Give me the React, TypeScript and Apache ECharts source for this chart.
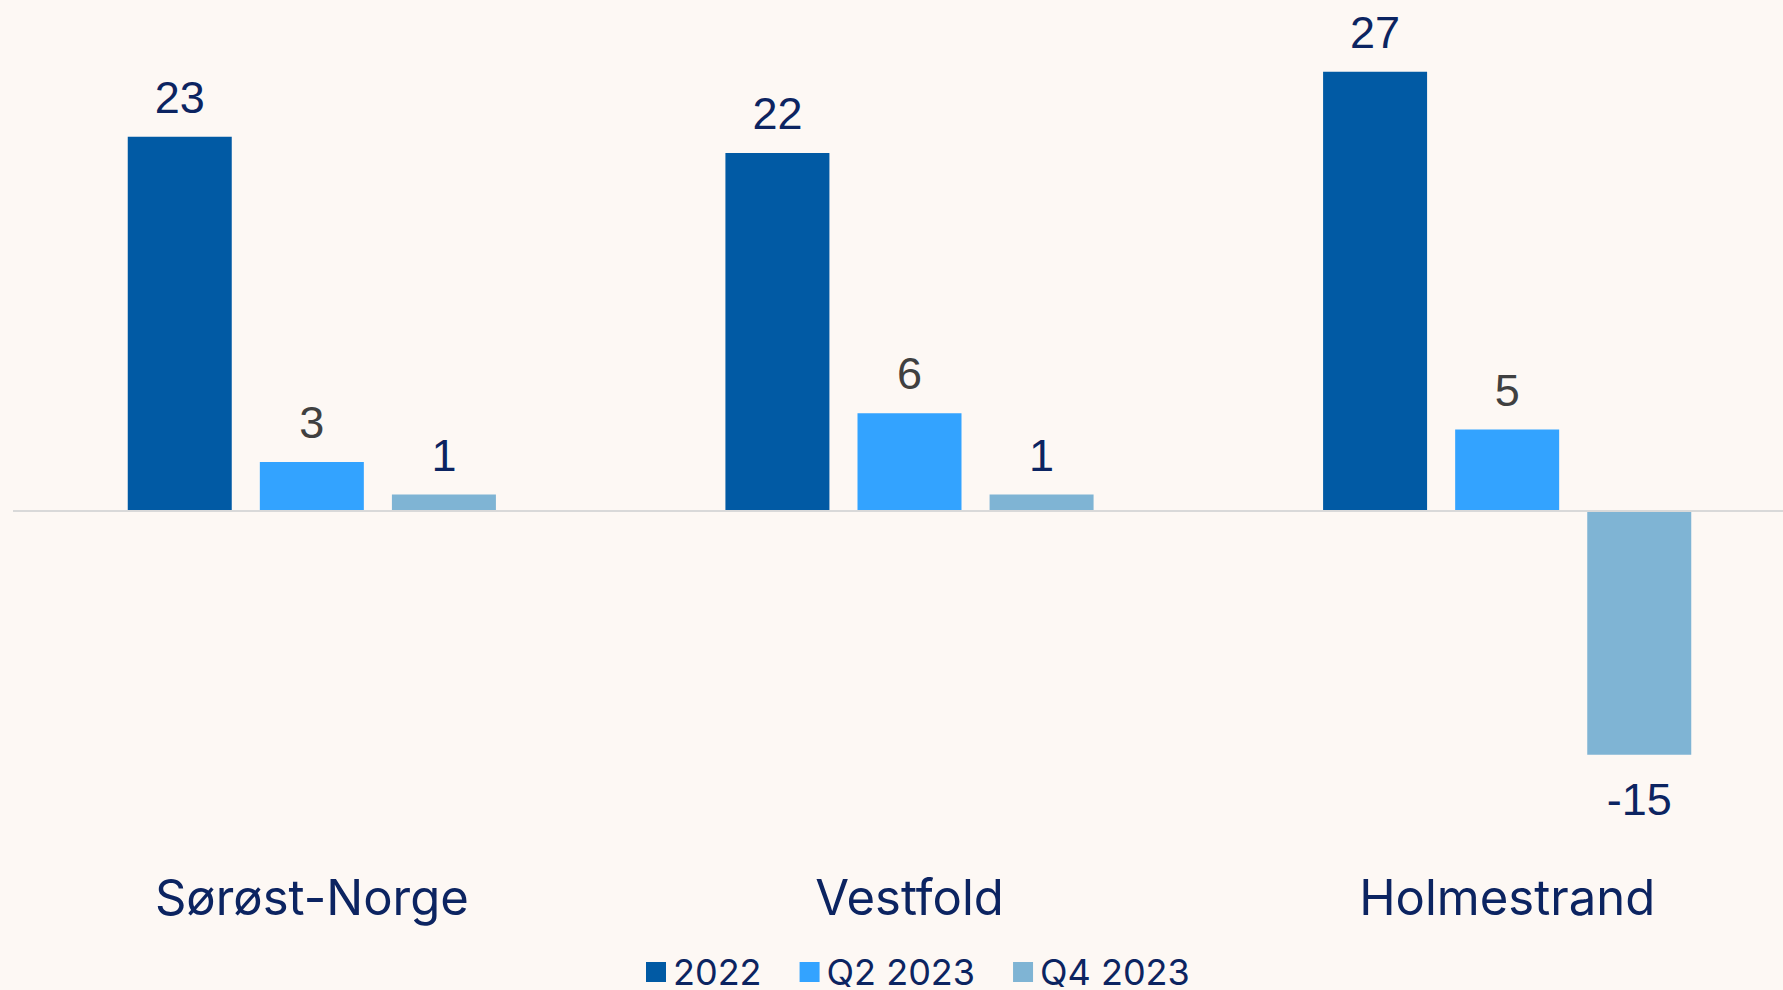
import React, { useEffect, useRef } from "react";
import * as echarts from "echarts";

const categories = ["Sørøst-Norge", "Vestfold", "Holmestrand"];
const seriesNames = ["2022", "Q2 2023", "Q4 2023"];
const values2022 = [23, 22, 27];
const valuesQ2 = [3, 6, 5];
const valuesQ4 = [1, 1, -15];

const colors = ["#015aa4", "#33a3ff", "#7fb4d4"];
const labelColors = ["#0c2461", "#404040", "#0c2461"];
const navy = "#0c2461";

export default function App() {
  const ref = useRef<HTMLDivElement>(null);
  useEffect(() => {
    document.body.style.margin = "0";
    if (!ref.current) return;
    const chart = echarts.init(ref.current, undefined, { renderer: "svg" });
    const data = [values2022, valuesQ2, valuesQ4];
    const series = data.map((vals, i) => ({
      name: seriesNames[i],
      type: "bar",
      barWidth: 104,
      barGap: "27%",
      itemStyle: { color: colors[i] },
      label: {
        show: true,
        fontFamily: "Liberation Sans, Arial, sans-serif",
        fontSize: 45,
        color: labelColors[i],
      },
      data: vals.map((v) => ({
        value: v,
        label: { position: v < 0 ? "bottom" : "top", distance: v < 0 ? 22 : 17 },
      })),
      ...(i === 0
        ? {
            markLine: {
              silent: true,
              symbol: "none",
              label: { show: false },
              lineStyle: { color: "#d9d9d9", width: 2, type: "solid" },
              data: [{ yAxis: 0 }],
            },
          }
        : {}),
    }));
    chart.setOption({
      animation: false,
      backgroundColor: "#fdf8f4",
      grid: {
        left: 13,
        top: 23,
        width: 1793,
        height: 813,
        containLabel: false,
        outerBoundsMode: "none",
      },
      legend: {
        left: 646,
        top: 954,
        padding: 0,
        itemWidth: 20,
        itemHeight: 20,
        itemGap: 38,
        icon: "rect",
        textStyle: {
          fontFamily: "Inter",
          fontSize: 36,
          lineHeight: 36,
          color: navy,
          padding: [0, 0, 0, 2],
        },
        data: seriesNames,
      },
      xAxis: {
        type: "category",
        data: categories,
        axisLine: { show: false, onZero: false },
        axisTick: { show: false },
        axisLabel: { margin: 37, fontFamily: "Inter", fontSize: 49, color: navy },
      },
      yAxis: {
        type: "value",
        min: -20,
        max: 30,
        interval: 10,
        show: false,
        splitLine: { show: false },
      },
      series,
    });
    return () => chart.dispose();
  }, []);
  return <div ref={ref} style={{ width: 1783, height: 990 }} />;
}
